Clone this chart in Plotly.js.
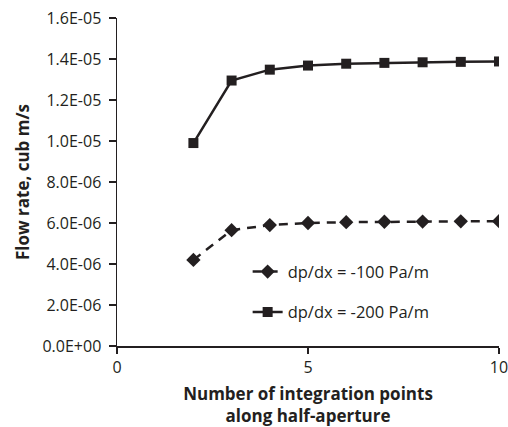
<!DOCTYPE html>
<html>
<head>
<meta charset="utf-8">
<script src="https://cdn.plot.ly/plotly-3.0.1.min.js"></script>
<style>html,body{margin:0;padding:0;background:#fff;}#chart{width:508px;height:427px;}</style>
</head>
<body>
<div id="chart"></div>
<script>
const points = [2, 3, 4, 5, 6, 7, 8, 9, 10];
const flow100 = [4.20e-6, 5.65e-6, 5.90e-6, 6.00e-6, 6.04e-6, 6.06e-6, 6.07e-6, 6.08e-6, 6.09e-6];
const flow200 = [9.90e-6, 1.295e-5, 1.348e-5, 1.368e-5, 1.377e-5, 1.381e-5, 1.384e-5, 1.386e-5, 1.388e-5];
const seriesNames = ['dp/dx = -100 Pa/m', 'dp/dx = -200 Pa/m'];
const yTickVals = [0, 2e-6, 4e-6, 6e-6, 8e-6, 1e-5, 1.2e-5, 1.4e-5, 1.6e-5];
const yTickText = ['0.0E+00', '2.0E-06', '4.0E-06', '6.0E-06', '8.0E-06', '1.0E-05', '1.2E-05', '1.4E-05', '1.6E-05'];
const xTickVals = [0, 5, 10];

const ink = '#231f20';
const font = '"Open Sans", sans-serif';

const traces = [
  {x: points, y: flow100, name: seriesNames[0], legendgroup: 'a', mode: 'lines+markers',
   line: {color: ink, width: 2.5, dash: '9px,7px'},
   marker: {symbol: 'diamond', size: 11, color: ink}},
  {x: points, y: flow200, name: seriesNames[1], legendgroup: 'b', mode: 'lines+markers',
   line: {color: ink, width: 2.5},
   marker: {symbol: 'square', size: 10, color: ink}}
];

const layout = {
  width: 508, height: 427,
  margin: {l: 117, r: 9, t: 18, b: 81},
  paper_bgcolor: '#fff', plot_bgcolor: '#fff',
  showlegend: true,
  legend: {x: 0.342, y: 0.165, xanchor: 'left', yanchor: 'middle', traceorder: 'grouped',
    font: {family: font, size: 16.5, color: ink}, tracegroupgap: 16,
    bgcolor: 'rgba(0,0,0,0)'},
  font: {family: font, color: ink},
  xaxis: {range: [0, 10], tickvals: xTickVals, showgrid: false, zeroline: false,
    showline: true, linecolor: ink, linewidth: 1.5, ticks: 'outside', ticklen: 6,
    tickcolor: ink, tickwidth: 1.5, ticklabeloverflow: 'allow',
    tickfont: {family: font, size: 16, color: ink},
    title: {text: '<b>Number of integration points<br>along half-aperture</b>',
      font: {family: font, size: 17, color: ink}, standoff: 12}},
  yaxis: {range: [0, 1.6e-5], tickvals: yTickVals, ticktext: yTickText, showgrid: false,
    zeroline: false, showline: true, linecolor: ink, linewidth: 1.5, ticks: 'outside',
    ticklen: 7, tickcolor: ink, tickwidth: 1.5, ticklabelstandoff: 4,
    tickfont: {family: font, size: 16, color: ink},
    title: {text: '<b>Flow rate, cub m/s</b>', font: {family: font, size: 17, color: ink}, standoff: 8}}
};

Plotly.newPlot('chart', traces, layout, {displayModeBar: false, staticPlot: true});
</script>
</body>
</html>
